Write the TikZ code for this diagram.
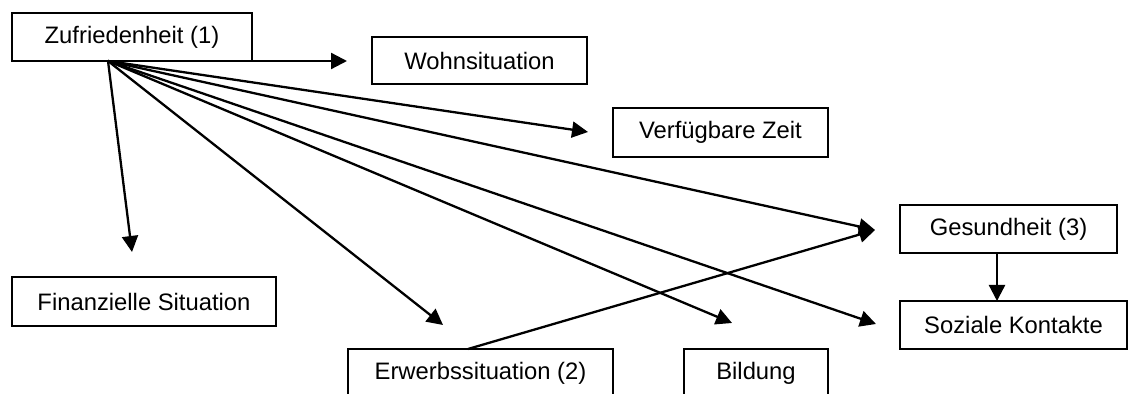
\documentclass[tikz,border=0pt]{standalone}
\usepackage{fontspec}
\setmainfont{Liberation Sans}
\usetikzlibrary{arrows.meta}
\begin{document}
\begin{tikzpicture}[x=0.5pt,y=-0.5pt,
  box/.style={draw, line width=0.8pt, inner sep=0pt, font=\fontsize{11.9}{14}\selectfont, fill=white},
  conn/.style={line width=1.15pt, -{Triangle[length=8pt,width=8pt]}}]
\useasboundingbox (0,0) rectangle (1128,394);
\clip (0,0) rectangle (1128,394);
% nodes
\node[box, minimum width=120pt, minimum height=24pt] (Z) at (132,37) {Zufriedenheit (1)};
\node[box, minimum width=107.5pt, minimum height=23.5pt] (W) at (479.5,60.5) {Wohnsituation};
\node[box, minimum width=107.5pt, minimum height=24.5pt] (V) at (720.5,132.5) {Verfügbare Zeit};
\node[box, minimum width=108.5pt, minimum height=24pt] (G) at (1008.5,229) {Gesundheit (3)};
\node[box, minimum width=113.5pt, minimum height=24pt] (S) at (1013.5,325) {Soziale Kontakte};
\node[box, minimum width=132pt, minimum height=24.5pt] (F) at (144,301.5) {Finanzielle Situation};
\node[box, minimum width=132.5pt, minimum height=24pt] (E) at (480.5,373) {Erwerbssituation (2)};
\node[box, minimum width=72pt, minimum height=24pt] (B) at (756,373) {Bildung};
% coordinates
\coordinate (zs) at (108,61);
\coordinate (tW) at (347,61);
\coordinate (tV) at (588,132);
\coordinate (tG) at (875,230);
\coordinate (tS) at (876,324);
\coordinate (tB) at (732,323);
\coordinate (tE) at (443,325);
\coordinate (tF) at (132,252);
\coordinate (es) at (468,349);
\coordinate (gs) at (997,253);
\coordinate (sk) at (997,301);
% connectors
\draw[conn] (zs) -- (tW);
\draw[conn] (zs) -- (tV);
\draw[conn] (zs) -- (tG);
\draw[conn] (zs) -- (tS);
\draw[conn] (zs) -- (tB);
\draw[conn] (zs) -- (tE);
\draw[conn] (zs) -- (tF);
\draw[conn] (es) -- (tG);
\draw[conn] (gs) -- (sk);
\end{tikzpicture}
\end{document}
